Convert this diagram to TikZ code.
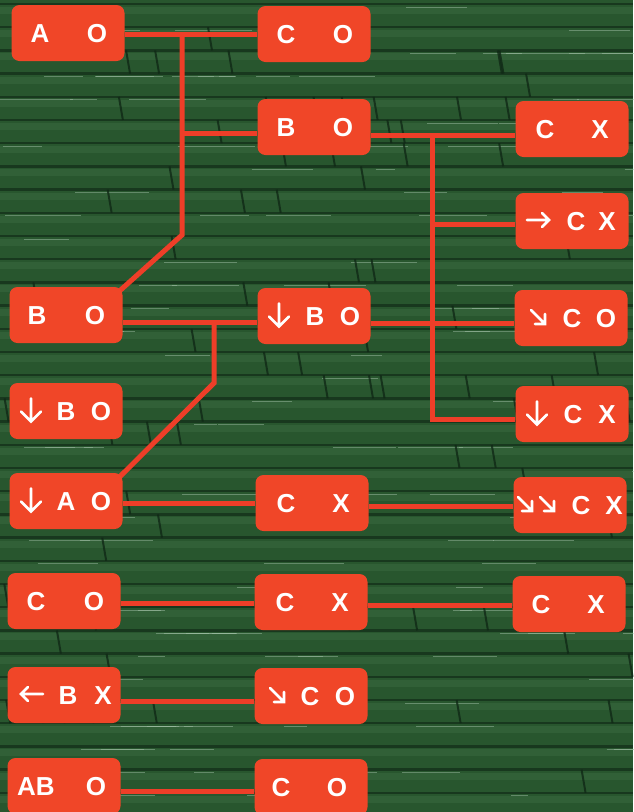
\documentclass[tikz,border=0pt]{standalone}
\usepackage{fontspec}
\setmainfont{Liberation Sans}
\usetikzlibrary{calc}
\definecolor{bggreen}{RGB}{40,86,46}
\definecolor{mortar}{RGB}{16,40,22}
\definecolor{brickhi}{RGB}{66,116,72}
\definecolor{hilite}{RGB}{170,200,175}
\definecolor{boxred}{RGB}{240,70,40}
\definecolor{wirered}{RGB}{238,62,40}
\pgfdeclarelayer{tex}
\pgfdeclarelayer{wires}
\pgfsetlayers{tex,wires,main}
\newcommand\at[2]{\makebox[0pt]{\hspace*{#1}\hspace*{#1}#2}}
\tikzset{
  box/.style={rectangle, rounded corners=8pt, fill=boxred, minimum width=113pt,
    minimum height=56pt, inner sep=0pt, text=white, text height=19pt, text depth=0pt,
    font=\bfseries\fontsize{26}{26}\selectfont},
  wire/.style={draw=wirered, line width=5pt},
  glyph/.style={draw=white, line width=2.6pt, line cap=round, line join=miter},
  darr/.pic={\draw[glyph] (0,-11.5) -- (0,11) (-10,1.5) -- (0,11.5) -- (10,1.5);},
  rarr/.pic={\draw[glyph] (-11,0) -- (11,0) (4,-7) -- (11,0) -- (4,7);},
  larr/.pic={\draw[glyph] (11,0) -- (-11,0) (-4,-7) -- (-11,0) -- (-4,7);},
  searr/.pic={\draw[glyph] (-7,-7) -- (7,7) (7,-3) -- (7,7) -- (-3,7);},
}
\begin{document}
\begin{tikzpicture}[x=1pt,y=-1pt]
\clip (0,0) rectangle (633,812);
\begin{pgfonlayer}{tex}
\fill[bggreen] (0,0) rectangle (633,812);
\pgfmathsetseed{7}
\foreach \i in {0,...,35}{
  \pgfmathsetmacro\yy{4+23.2*\i}
  \fill[brickhi,opacity=.35] (0,\yy+3) rectangle (633,\yy+10);
  \draw[mortar,line width=2.5pt,opacity=.65] (0,\yy) -- (633,\yy);
}
\foreach \k in {1,...,140}{
  \pgfmathsetmacro\xx{rnd*633}
  \pgfmathsetmacro\rw{int(rnd*35)}
  \pgfmathsetmacro\ln{15+rnd*70}
  \draw[hilite,line width=1pt,opacity=.45] (\xx,7+23.2*\rw) -- ++(\ln,0);
}
\foreach \k in {1,...,90}{
  \pgfmathsetmacro\xx{rnd*633}
  \pgfmathsetmacro\rw{int(rnd*35)}
  \draw[mortar,line width=2pt,opacity=.8] (\xx,4+23.2*\rw) -- ++(4,23.2);
}
\end{pgfonlayer}

\node[box] (n1)  at (68,33)   {\at{-28pt}{A}\at{29pt}{O}};
\node[box] (n2)  at (314,34)  {\at{-28pt}{C}\at{29pt}{O}};
\node[box] (n3)  at (314,127) {\at{-28pt}{B}\at{29pt}{O}};
\node[box] (n4)  at (572,129) {\at{-27pt}{C}\at{28pt}{X}};
\node[box] (n5)  at (572,221) {\at{4pt}{C}\at{35pt}{X}};
\node[box] (n6)  at (66,315)  {\at{-29pt}{B}\at{29pt}{O}};
\node[box] (n7)  at (314,316) {\at{1pt}{B}\at{36pt}{O}};
\node[box] (n8)  at (571,318) {\at{1pt}{C}\at{35pt}{O}};
\node[box] (n9)  at (66,411)  {\at{0pt}{B}\at{35pt}{O}};
\node[box] (n10) at (572,414) {\at{1pt}{C}\at{35pt}{X}};
\node[box] (n11) at (66,501)  {\at{0pt}{A}\at{35pt}{O}};
\node[box] (n12) at (312,503) {\at{-26pt}{C}\at{29pt}{X}};
\node[box] (n13) at (570,505) {\at{11pt}{C}\at{44pt}{X}};
\node[box] (n14) at (64,601)  {\at{-28pt}{C}\at{30pt}{O}};
\node[box] (n15) at (311,602) {\at{-26pt}{C}\at{29pt}{X}};
\node[box] (n16) at (569,604) {\at{-28pt}{C}\at{27pt}{X}};
\node[box] (n17) at (64,695)  {\at{4pt}{B}\at{39pt}{X}};
\node[box] (n18) at (311,696) {\at{-1pt}{C}\at{34pt}{O}};
\node[box] (n19) at (64,786)  {\at{-28pt}{AB}\at{32pt}{O}};
\node[box] (n20) at (311,787) {\at{-30pt}{C}\at{26pt}{O}};

\pic at ($(n5.center)+(-34,-1)$) {rarr};
\pic at ($(n7.center)+(-35,-1)$) {darr};
\pic at ($(n8.center)+(-33,-1)$) {searr};
\pic at ($(n9.center)+(-35,-1)$) {darr};
\pic at ($(n10.center)+(-35,-1)$) {darr};
\pic at ($(n11.center)+(-35,-1)$) {darr};
\pic at ($(n13.center)+(-45,-1)$) {searr};
\pic at ($(n13.center)+(-23,-1)$) {searr};
\pic at ($(n17.center)+(-32,-1)$) {larr};
\pic at ($(n18.center)+(-34,-1)$) {searr};

\coordinate (j1) at (182,34);
\coordinate (j1b) at (182,235);
\coordinate (j2) at (182,133);
\coordinate (j3) at (432,135);
\coordinate (j4) at (432,419);
\coordinate (j5) at (432,224);
\coordinate (j6) at (214,322);
\coordinate (j6b) at (214,383);
\coordinate (h1) at (0,323);
\coordinate (h2) at (0,503);
\coordinate (h3) at (0,506);
\coordinate (h4) at (0,603);
\coordinate (h5) at (0,605);
\coordinate (h6) at (0,701);
\coordinate (h7) at (0,791);

\begin{pgfonlayer}{wires}
\draw[wire] (n1.east |- j1) -- (n2.west |- j1);
\draw[wire] (j1) -- (j1b) -- ($(n6.north east)+(-3,4)$);
\draw[wire] (j2) -- (n3.west |- j2);
\draw[wire] (n3.east |- j3) -- (n4.west |- j3);
\draw[wire] (j3) -- (j4) -- (n10.west |- j4);
\draw[wire] (j5) -- (n5.west |- j5);
\draw[wire] (n6.east |- j6) -- (n7.west |- j6);
\draw[wire] (j6) -- (j6b) -- ($(n11.north east)+(-3,4)$);
\draw[wire] (n7.east |- h1) -- (n8.west |- h1);
\draw[wire] (n11.east |- h2) -- (n12.west |- h2);
\draw[wire] (n12.east |- h3) -- (n13.west |- h3);
\draw[wire] (n14.east |- h4) -- (n15.west |- h4);
\draw[wire] (n15.east |- h5) -- (n16.west |- h5);
\draw[wire] (n17.east |- h6) -- (n18.west |- h6);
\draw[wire] (n19.east |- h7) -- (n20.west |- h7);
\end{pgfonlayer}
\end{tikzpicture}
\end{document}
